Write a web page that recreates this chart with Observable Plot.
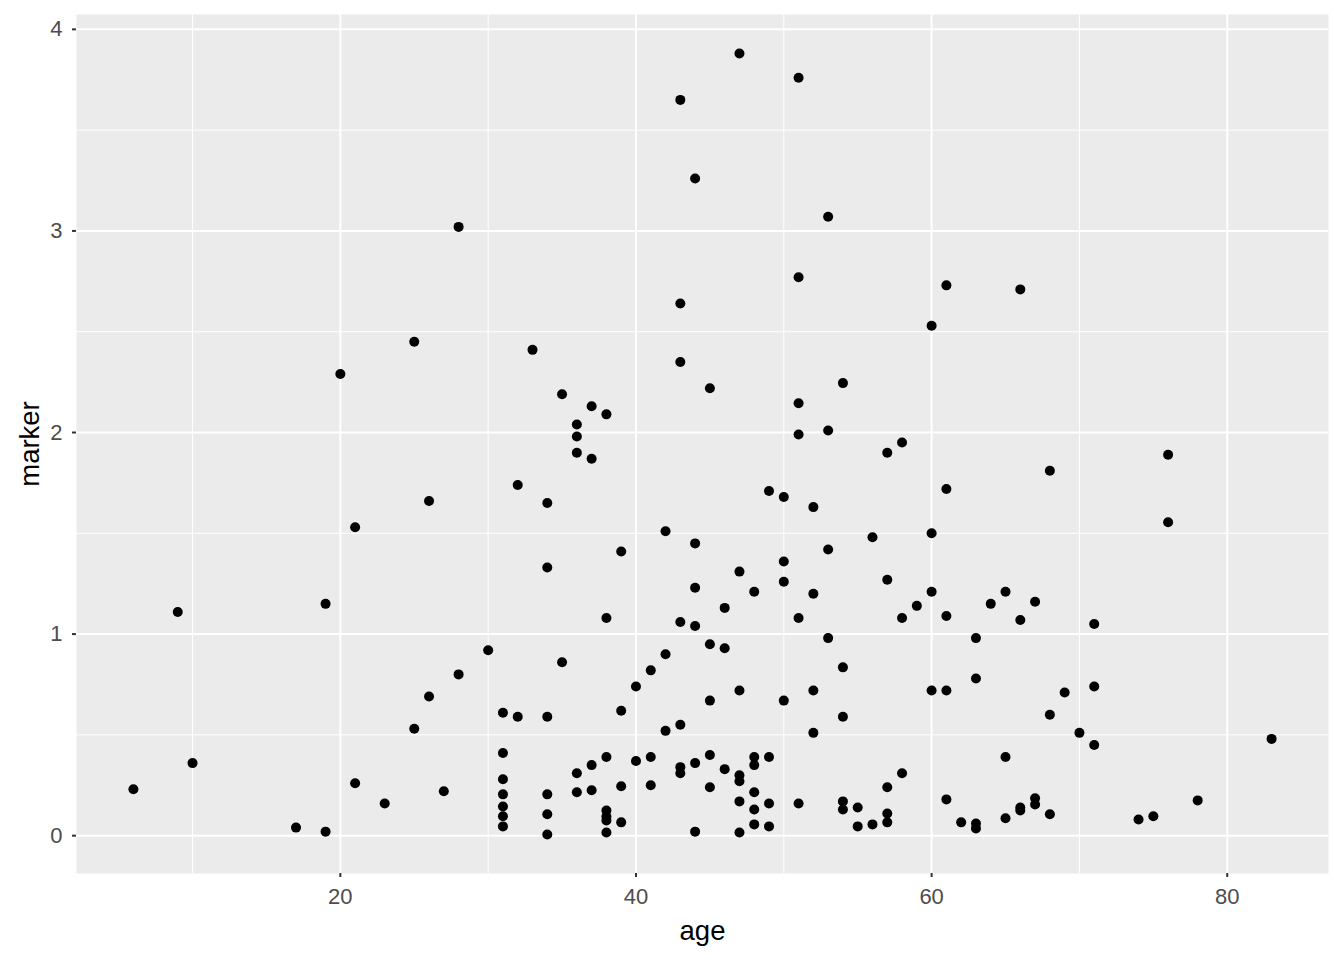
<!DOCTYPE html>
<html>
<head>
<meta charset="utf-8">
<script src="https://cdn.jsdelivr.net/npm/d3@7"></script>
<script src="https://cdn.jsdelivr.net/npm/@observablehq/plot@0.6"></script>
<style>
  html, body { margin: 0; padding: 0; background: #ffffff; }
  #chart { width: 1344px; height: 960px; }
  #chart svg g[aria-label="x-axis tick label"],
  #chart svg g[aria-label="y-axis tick label"] { font-size: 22px; fill: #4D4D4D; }
</style>
</head>
<body>
<div id="chart"></div>
<script>
const age = [
  47, 51, 43, 44, 28, 53, 61, 66, 51, 43, 60, 25, 33, 20, 43, 45, 54, 35, 37, 38,
  51, 36, 36, 51, 53, 58, 36, 37, 57, 76, 68, 32, 49, 50, 61, 26, 34, 52, 76, 21,
  42, 60, 56, 44, 53, 39, 50, 34, 47, 57, 50, 44, 48, 52, 60, 65, 67, 64, 19, 59,
  46, 9, 38, 51, 58, 61, 66, 43, 44, 71, 63, 53, 45, 46, 30, 42, 35, 54, 41, 28,
  63, 40, 71, 47, 52, 60, 61, 69, 26, 50, 45, 31, 39, 68, 32, 34, 54, 43, 25, 42,
  52, 70, 83, 71,
  6, 10, 17, 19, 21, 23, 27,
  31, 45, 38, 41, 48, 49, 40, 44, 37, 48, 43, 43, 46, 36, 47, 47, 31, 58, 57, 39,
  41, 45, 36, 37, 48, 31, 34, 47, 49, 51, 54, 54, 55, 48, 31, 38, 31, 34, 38, 38,
  39, 31, 48, 49, 55, 56, 57, 57, 34, 38, 44, 47,
  65, 61, 62, 63, 63, 65, 66, 66, 67, 67, 68, 74, 75, 78
];
const marker = [
  3.88, 3.76, 3.65, 3.26, 3.02, 3.07, 2.73, 2.71, 2.77, 2.64, 2.53, 2.45, 2.41, 2.29, 2.35, 2.22, 2.245, 2.19, 2.13, 2.09,
  2.145, 2.04, 1.98, 1.99, 2.01, 1.95, 1.90, 1.87, 1.90, 1.89, 1.81, 1.74, 1.71, 1.68, 1.72, 1.66, 1.65, 1.63, 1.555, 1.53,
  1.51, 1.50, 1.48, 1.45, 1.42, 1.41, 1.36, 1.33, 1.31, 1.27, 1.26, 1.23, 1.21, 1.20, 1.21, 1.21, 1.16, 1.15, 1.15, 1.14,
  1.13, 1.11, 1.08, 1.08, 1.08, 1.09, 1.07, 1.06, 1.04, 1.05, 0.98, 0.98, 0.95, 0.93, 0.92, 0.90, 0.86, 0.835, 0.82, 0.80,
  0.78, 0.74, 0.74, 0.72, 0.72, 0.72, 0.72, 0.71, 0.69, 0.67, 0.67, 0.61, 0.62, 0.60, 0.59, 0.59, 0.59, 0.55, 0.53, 0.52,
  0.51, 0.51, 0.48, 0.45,
  0.23, 0.36, 0.04, 0.02, 0.26, 0.16, 0.22,
  0.41, 0.40, 0.39, 0.39, 0.39, 0.39, 0.37, 0.36, 0.35, 0.35, 0.34, 0.31, 0.33, 0.31, 0.30, 0.27, 0.28, 0.31, 0.24, 0.245,
  0.25, 0.24, 0.215, 0.225, 0.215, 0.205, 0.205, 0.17, 0.16, 0.16, 0.17, 0.13, 0.14, 0.13, 0.145, 0.125, 0.096, 0.106, 0.095, 0.075,
  0.066, 0.046, 0.056, 0.046, 0.046, 0.056, 0.11, 0.066, 0.006, 0.016, 0.02, 0.016,
  0.39, 0.18, 0.066, 0.06, 0.036, 0.086, 0.14, 0.125, 0.185, 0.155, 0.106, 0.08, 0.096, 0.175
];
const xTicks = [20, 40, 60, 80];
const xMinor = [10, 30, 50, 70];
const yTicks = [0, 1, 2, 3, 4];
const yMinor = [0.5, 1.5, 2.5, 3.5];

const data = age.map((a, i) => ({age: a, marker: marker[i]}));

function expand(ext) {
  const pad = (ext[1] - ext[0]) * 0.05;
  return [ext[0] - pad, ext[1] + pad];
}
const xDomain = expand(d3.extent(age));
const yDomain = expand(d3.extent(marker));

const chart = Plot.plot({
  width: 1344,
  height: 960,
  marginLeft: 76,
  marginRight: 16,
  marginTop: 14,
  marginBottom: 87,
  style: {fontFamily: "Arial, 'Liberation Sans', sans-serif", fontSize: "22px", background: "#ffffff"},
  x: {domain: xDomain},
  y: {domain: yDomain},
  marks: [
    Plot.frame({fill: "#EBEBEB", stroke: null}),
    Plot.gridX(xMinor, {stroke: "#ffffff", strokeOpacity: 1, strokeWidth: 1}),
    Plot.gridY(yMinor, {stroke: "#ffffff", strokeOpacity: 1, strokeWidth: 1}),
    Plot.gridX(xTicks, {stroke: "#ffffff", strokeOpacity: 1, strokeWidth: 2}),
    Plot.gridY(yTicks, {stroke: "#ffffff", strokeOpacity: 1, strokeWidth: 2}),
    Plot.axisX(xTicks, {
      tickSize: 4, tickPadding: 11, stroke: "#333333", strokeWidth: 2,
      fontSize: 22, fill: "#4D4D4D", tickFormat: d3.format("d"),
      label: null
    }),
    Plot.axisY(yTicks, {
      tickSize: 4, tickPadding: 10, stroke: "#333333", strokeWidth: 2,
      fontSize: 22, fill: "#4D4D4D", tickFormat: d3.format("d"),
      label: null
    }),
    Plot.text(["age"], {frameAnchor: "bottom", dy: 66, fontSize: 27.5, fill: "#000000"}),
    Plot.text(["marker"], {frameAnchor: "left", textAnchor: "middle", dx: -46, rotate: -90, fontSize: 27.5, fill: "#000000"}),
    Plot.dot(data, {x: "age", y: "marker", r: 5, fill: "#000000", stroke: null})
  ]
});
document.getElementById("chart").appendChild(chart);
</script>
</body>
</html>
